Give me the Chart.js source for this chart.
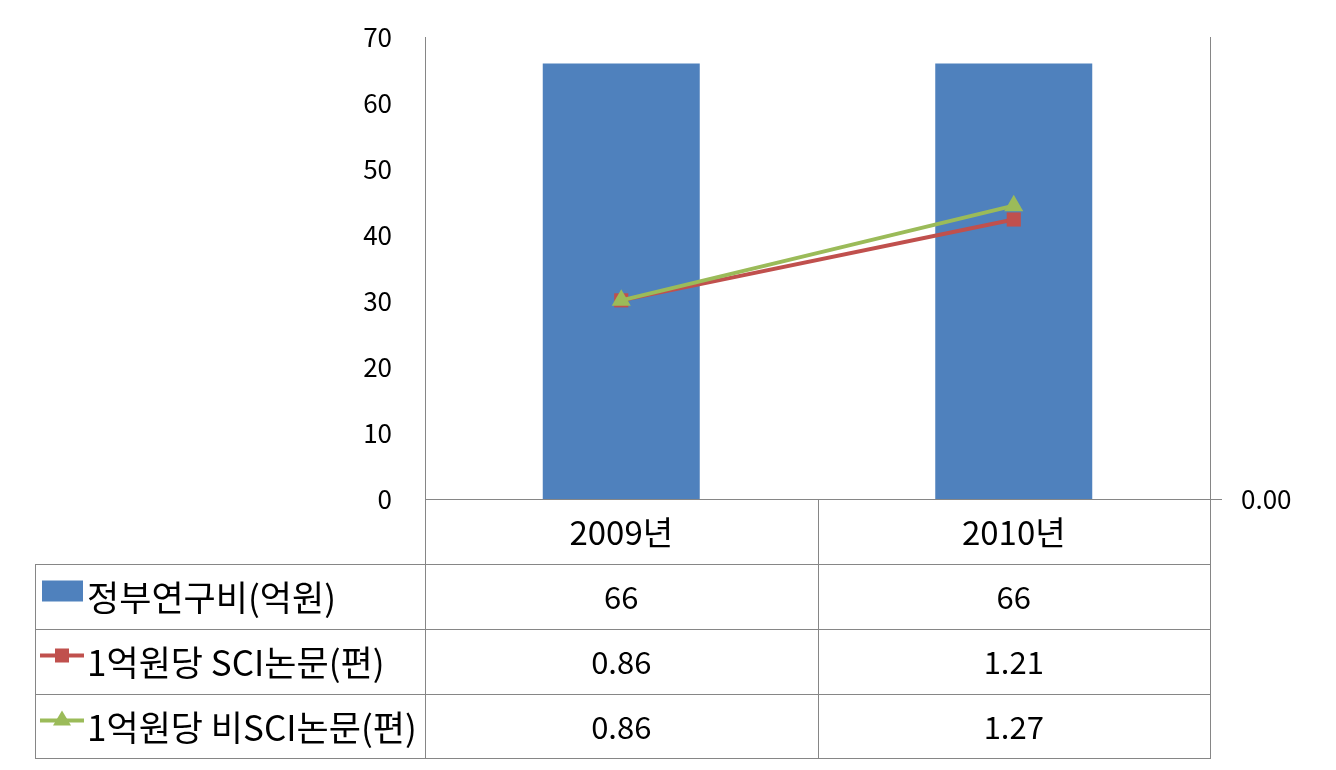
<!DOCTYPE html>
<html>
<head>
<meta charset="utf-8">
<script src="https://cdn.jsdelivr.net/npm/chart.js@4.4.1/dist/chart.umd.min.js"></script>
<style>
html,body{margin:0;padding:0;background:#fff;}
#wrap{width:1336px;height:770px;position:relative;}
</style>
</head>
<body>
<div id="wrap"><canvas id="c"></canvas></div>
<script>
// ---- data ----
const categories = ['2009년', '2010년'];
const seriesNames = ['정부연구비(억원)', '1억원당 SCI논문(편)', '1억원당 비SCI논문(편)'];
const govFunding = [66, 66];
const sciPerBillion = [0.86, 1.21];
const nonSciPerBillion = [0.86, 1.27];
const leftTicks = [0, 10, 20, 30, 40, 50, 60, 70];
const rightTickLabels = ['0.00'];

const FONT = "'Malgun Gothic', 'Noto Sans CJK KR', sans-serif";
const BLUE = '#4F81BD', RED = '#C0504D', GREEN = '#9BBB59', GRID = '#868686';

const tablePlugin = {
  id: 'dataTable',
  afterDraw(chart) {
    const ctx = chart.ctx;
    const ca = chart.chartArea;
    const xs = chart.scales.x;
    const rowH = 65;
    const tableLeft = 35;
    const top = ca.bottom;
    const rows = 4;
    const bottom = top + rowH * rows - 1;
    const c0 = xs.getPixelForValue(0), c1 = xs.getPixelForValue(1);
    const colEdges = [ca.left, (c0 + c1) / 2, ca.right];
    const a = v => Math.round(v) + 0.5;

    ctx.save();
    ctx.strokeStyle = GRID;
    ctx.lineWidth = 1;
    ctx.beginPath();
    for (let r = 1; r <= rows; r++) {
      const y = a(r === rows ? bottom : top + r * rowH);
      ctx.moveTo(tableLeft, y); ctx.lineTo(ca.right + 1, y);
    }
    ctx.moveTo(a(tableLeft), a(top + rowH)); ctx.lineTo(a(tableLeft), a(bottom));
    colEdges.forEach(x => { ctx.moveTo(a(x), a(top)); ctx.lineTo(a(x), a(bottom)); });
    ctx.stroke();

    ctx.fillStyle = '#000';
    ctx.textBaseline = 'middle';
    ctx.textAlign = 'center';
    const centers = [c0, c1];
    ctx.font = '33px ' + FONT;
    categories.forEach((c, i) => ctx.fillText(c, centers[i], top + rowH / 2 + 1));
    ctx.font = '31px ' + FONT;
    const rowsData = [
      govFunding.map(v => String(v)),
      sciPerBillion.map(v => v.toFixed(2)),
      nonSciPerBillion.map(v => v.toFixed(2))
    ];
    rowsData.forEach((vals, r) => {
      const yc = top + rowH * (r + 1) + rowH / 2 + 1;
      vals.forEach((v, i) => ctx.fillText(v, centers[i], yc));
    });

    ctx.textAlign = 'left';
    ctx.font = '35px ' + FONT;
    seriesNames.forEach((n, r) => {
      const yc = top + rowH * (r + 1) + rowH / 2;
      ctx.fillStyle = '#000';
      ctx.fillText(n, 87, yc + 1);
      if (r === 0) {
        ctx.fillStyle = BLUE;
        ctx.fillRect(42, yc - 16, 41, 21);
      } else {
        const col = r === 1 ? RED : GREEN;
        ctx.strokeStyle = col; ctx.lineWidth = 4;
        ctx.beginPath(); ctx.moveTo(40, yc - 6); ctx.lineTo(84, yc - 6); ctx.stroke();
        ctx.fillStyle = col;
        if (r === 1) {
          ctx.fillRect(55, yc - 13, 14, 14);
        } else {
          ctx.beginPath();
          ctx.moveTo(62, yc - 16); ctx.lineTo(71, yc - 1); ctx.lineTo(53, yc - 1);
          ctx.closePath(); ctx.fill();
        }
      }
    });
    ctx.restore();
  }
};

Chart.defaults.font.family = FONT;
Chart.defaults.color = '#000';

new Chart(document.getElementById('c'), {
  type: 'bar',
  data: {
    labels: categories,
    datasets: [
      {
        type: 'bar', label: seriesNames[0], data: govFunding, yAxisID: 'y',
        backgroundColor: BLUE, borderWidth: 0, barPercentage: 0.4, categoryPercentage: 1.0, order: 3
      },
      {
        type: 'line', label: seriesNames[1], data: sciPerBillion, yAxisID: 'y1',
        borderColor: RED, backgroundColor: RED, borderWidth: 4,
        pointStyle: 'rect', pointRadius: 10, pointBorderWidth: 0, order: 2
      },
      {
        type: 'line', label: seriesNames[2], data: nonSciPerBillion, yAxisID: 'y1',
        borderColor: GREEN, backgroundColor: GREEN, borderWidth: 4,
        pointStyle: 'triangle', pointRadius: 11, pointBorderWidth: 0, order: 1
      }
    ]
  },
  options: {
    responsive: true,
    maintainAspectRatio: false,
    animation: false,
    layout: { padding: { left: 0, right: 0, top: 37, bottom: 271 } },
    plugins: { legend: { display: false }, tooltip: { enabled: false } },
    scales: {
      x: {
        grid: { display: false },
        ticks: { display: false },
        border: { display: true, color: GRID, width: 1 },
        afterFit: s => { s.height = 0; s.paddingLeft = 0; s.paddingRight = 0; }
      },
      y: {
        position: 'left',
        min: 0, max: 70,
        afterBuildTicks: s => { s.ticks = leftTicks.map(v => ({ value: v })); },
        ticks: { font: { size: 26 }, padding: 33, color: '#000' },
        grid: { display: false, drawTicks: false },
        border: { display: true, color: GRID, width: 1 },
        afterFit: s => { s.width = 425; s.paddingTop = 0; s.paddingBottom = 0; }
      },
      y1: {
        position: 'right',
        min: 0, max: 2,
        afterBuildTicks: s => { s.ticks = [{ value: 0 }]; },
        ticks: { font: { size: 26 }, padding: 19, color: '#000', callback: (v, i) => rightTickLabels[i] },
        grid: { drawOnChartArea: false, drawTicks: true, tickLength: 12, color: GRID },
        border: { display: true, color: GRID, width: 1 },
        afterFit: s => { s.width = 126; s.paddingTop = 0; s.paddingBottom = 0; }
      }
    }
  },
  plugins: [tablePlugin]
});
</script>
</body>
</html>
